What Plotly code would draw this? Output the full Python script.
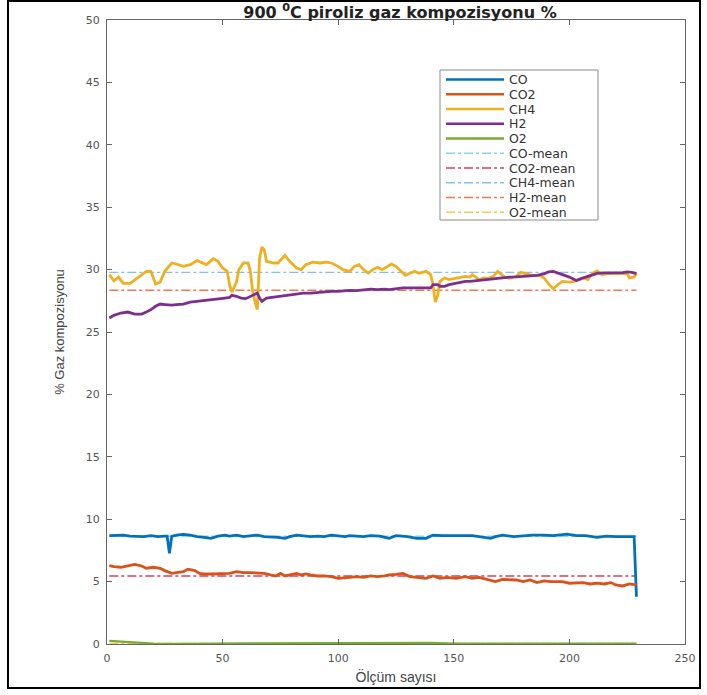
import plotly.graph_objects as go

# Ölçüm numaraları ve gaz yüzdeleri (900 °C piroliz)
co_x = [1, 4, 7, 10, 13, 16, 19, 22, 25, 26, 27, 28, 30, 33, 36, 39, 42, 45, 48, 51, 53, 56, 59, 62, 65,
        68, 71, 74, 77, 79, 82, 85, 88, 91, 94, 97, 100, 103, 105, 108, 111, 114, 118, 122, 125, 130,
        134, 138, 141, 145, 150, 154, 158, 163, 166, 168, 171, 176, 180, 184, 189, 193, 199, 203, 207,
        212, 216, 220, 225, 228, 229]
co_y = [8.68, 8.70, 8.73, 8.65, 8.60, 8.60, 8.68, 8.60, 8.65, 8.65, 7.27, 8.62, 8.73, 8.78, 8.73, 8.60,
        8.55, 8.47, 8.65, 8.73, 8.65, 8.73, 8.60, 8.65, 8.73, 8.60, 8.60, 8.55, 8.47, 8.60, 8.73, 8.65,
        8.60, 8.65, 8.60, 8.73, 8.65, 8.60, 8.68, 8.65, 8.60, 8.68, 8.65, 8.47, 8.68, 8.60, 8.47, 8.47,
        8.73, 8.68, 8.65, 8.68, 8.68, 8.55, 8.47, 8.60, 8.73, 8.60, 8.68, 8.73, 8.73, 8.68, 8.81, 8.68,
        8.68, 8.55, 8.65, 8.60, 8.60, 8.60, 3.79]

co2_x = [1, 3, 6, 9, 12, 15, 17, 20, 23, 25, 28, 30, 33, 35, 38, 40, 42, 45, 48, 51, 53, 56, 59, 62,
         65, 68, 71, 73, 75, 77, 79, 82, 84, 86, 88, 91, 94, 97, 100, 103, 105, 108, 111, 114, 117, 120,
         122, 125, 128, 131, 135, 138, 141, 144, 147, 151, 155, 158, 161, 165, 168, 171, 174, 177, 180,
         183, 186, 189, 192, 194, 197, 200, 203, 206, 209, 212, 215, 218, 220, 223, 226, 229]
co2_y = [6.28, 6.20, 6.15, 6.25, 6.38, 6.25, 6.07, 6.15, 6.07, 5.88, 5.66, 5.72, 5.80, 6.00, 5.88, 5.66,
         5.61, 5.61, 5.61, 5.61, 5.66, 5.80, 5.72, 5.72, 5.72, 5.66, 5.53, 5.45, 5.66, 5.45, 5.53, 5.66,
         5.53, 5.61, 5.53, 5.45, 5.45, 5.40, 5.26, 5.34, 5.34, 5.40, 5.34, 5.45, 5.40, 5.45, 5.53, 5.58,
         5.66, 5.40, 5.34, 5.26, 5.45, 5.26, 5.34, 5.26, 5.40, 5.26, 5.34, 5.13, 5.00, 5.18, 5.13, 5.13,
         5.00, 5.13, 4.92, 5.05, 5.00, 5.00, 5.00, 4.87, 4.87, 4.92, 4.81, 4.87, 4.81, 4.92, 4.73, 4.65,
         4.81, 4.73]

ch4_x = [1, 3, 5, 7, 10, 13, 17, 19, 21, 23, 25, 28, 30, 33, 36, 39, 41, 43, 46, 48, 50, 52, 53, 54,
         56, 57, 59, 61, 62, 63, 64, 65, 66, 67, 68, 69, 72, 74, 77, 79, 82, 84, 86, 89, 92, 95, 97,
         100, 102, 105, 107, 109, 111, 113, 115, 117, 119, 121, 123, 125, 127, 129, 131, 133, 135, 138,
         140, 141, 142, 143, 144, 146, 148, 151, 153, 155, 157, 158, 161, 163, 165, 167, 169, 170, 172,
         174, 177, 179, 182, 184, 187, 189, 191, 193, 195, 197, 200, 202, 204, 206, 208, 210, 212, 214,
         216, 218, 221, 223, 225, 226, 228, 229]
ch4_y = [29.60, 29.10, 29.40, 28.90, 28.90, 29.30, 29.86, 29.86, 28.85, 29.00, 29.86, 30.53, 30.45,
         30.26, 30.40, 30.72, 30.53, 30.40, 30.88, 30.66, 30.13, 29.86, 28.79, 28.20, 29.00, 29.99,
         30.53, 30.53, 29.86, 28.26, 27.46, 26.80, 30.93, 31.80, 31.60, 30.66, 30.53, 30.53, 31.14,
         30.66, 30.13, 29.99, 30.40, 30.60, 30.53, 30.60, 30.53, 30.26, 29.99, 29.86, 30.26, 30.40,
         29.99, 29.72, 30.00, 30.18, 30.00, 30.26, 30.45, 30.26, 29.86, 29.54, 29.70, 29.86, 29.70,
         29.86, 29.60, 28.79, 27.40, 27.90, 29.06, 29.33, 29.20, 29.33, 29.40, 29.46, 29.40, 29.60,
         29.20, 29.33, 29.30, 29.46, 29.86, 29.70, 29.40, 29.30, 29.46, 29.78, 29.66, 29.54, 29.54,
         29.33, 28.85, 28.47, 28.79, 29.06, 29.00, 29.06, 29.20, 29.33, 29.20, 29.70, 29.90, 29.60,
         29.66, 29.70, 29.66, 29.70, 29.66, 29.33, 29.40, 29.70]

h2_x = [1, 3, 6, 9, 12, 15, 17, 19, 21, 23, 25, 28, 30, 33, 36, 39, 42, 45, 48, 51, 53, 54, 56, 58,
        60, 62, 64, 65, 66, 67, 69, 71, 74, 77, 79, 82, 85, 88, 91, 94, 97, 100, 103, 105, 108, 111,
        114, 117, 120, 122, 125, 128, 131, 134, 137, 140, 141, 143, 144, 146, 148, 151, 153, 155, 157,
        160, 163, 166, 169, 171, 174, 177, 180, 183, 186, 189, 191, 193, 195, 197, 200, 202, 203, 205,
        208, 210, 212, 215, 218, 220, 223, 225, 227, 229]
h2_y = [26.12, 26.33, 26.52, 26.60, 26.44, 26.44, 26.60, 26.79, 27.06, 27.24, 27.20, 27.15, 27.20,
        27.24, 27.40, 27.46, 27.50, 27.56, 27.60, 27.72, 27.77, 27.94, 27.86, 27.72, 27.67, 27.86,
        28.04, 28.12, 27.72, 27.46, 27.72, 27.77, 27.86, 27.94, 28.00, 28.04, 28.12, 28.12, 28.18,
        28.20, 28.26, 28.26, 28.31, 28.34, 28.31, 28.36, 28.44, 28.39, 28.44, 28.39, 28.47, 28.53,
        28.53, 28.53, 28.53, 28.53, 28.79, 28.79, 28.66, 28.66, 28.79, 28.93, 29.00, 29.06, 29.06,
        29.12, 29.20, 29.20, 29.28, 29.33, 29.40, 29.42, 29.44, 29.46, 29.54, 29.66, 29.81, 29.86,
        29.70, 29.60, 29.40, 29.20, 29.12, 29.28, 29.46, 29.60, 29.70, 29.73, 29.73, 29.73, 29.76,
        29.81, 29.78, 29.68]

o2_x = [1, 5, 10, 15, 20, 30, 60, 90, 120, 140, 150, 180, 210, 229]
o2_y = [0.25, 0.20, 0.15, 0.10, 0.03, 0.02, 0.05, 0.03, 0.08, 0.10, 0.03, 0.04, 0.02, 0.03]

series_names = ["CO", "CO2", "CH4", "H2", "O2"]
series_colors = ["#0072BD", "#D95319", "#EDB120", "#7E2F8E", "#77AC30"]
series_x = [co_x, co2_x, ch4_x, h2_x, o2_x]
series_y = [co_y, co2_y, ch4_y, h2_y, o2_y]

mean_names = ["CO-mean", "CO2-mean", "CH4-mean", "H2-mean", "O2-mean"]
mean_values = [8.63, 5.45, 29.78, 28.34, 0.05]
mean_colors = ["#86D3F2", "#D6405E", "#86BFE8", "#F07A50", "#F4C85A"]

x_ticks = [0, 50, 100, 150, 200, 250]
y_ticks = [0, 5, 10, 15, 20, 25, 30, 35, 40, 45, 50]

W, H = 707, 695
L, R, T, B = 107, 22, 20, 51
PW, PH = W - L - R, H - T - B


def px_to_paper_x(px):
    return (px - L) / PW


def px_to_paper_y(py):
    return (H - B - py) / PH


fig = go.Figure()

# Mean levels go underneath the measured series
x_first, x_last = co_x[0], co_x[-1]
for name, color, val in zip(mean_names, mean_colors, mean_values):
    fig.add_trace(go.Scatter(x=[x_first, x_last], y=[val, val], mode="lines", name=name,
                             line=dict(color=color, width=1.4, dash="dashdot"),
                             showlegend=False))

for name, color, xs, ys in zip(series_names, series_colors, series_x, series_y):
    fig.add_trace(go.Scatter(x=xs, y=ys, mode="lines", name=name,
                             line=dict(color=color, width=2.8 if name != "O2" else 2.2),
                             showlegend=False))

shapes = []
annotations = []

# Outer frame around the whole figure
shapes.append(dict(type="rect", xref="paper", yref="paper",
                   x0=px_to_paper_x(8), x1=px_to_paper_x(700),
                   y0=px_to_paper_y(688), y1=px_to_paper_y(1),
                   line=dict(color="black", width=2), fillcolor="rgba(0,0,0,0)", layer="above"))

# Legend box with line swatches and labels
leg_left, leg_right, leg_top, leg_bottom = 440, 598, 70, 220
shapes.append(dict(type="rect", xref="paper", yref="paper",
                   x0=px_to_paper_x(leg_left), x1=px_to_paper_x(leg_right),
                   y0=px_to_paper_y(leg_bottom), y1=px_to_paper_y(leg_top),
                   line=dict(color="#8a8a8a", width=1), fillcolor="white", layer="above"))
legend_entries = [(n, c, "solid", 2.4) for n, c in zip(series_names, series_colors)] + \
                 [(n, c, "dashdot", 1.4) for n, c in zip(mean_names, mean_colors)]
for i, (name, color, dash, width) in enumerate(legend_entries):
    yc = 79.5 + i * 14.75
    shapes.append(dict(type="line", xref="paper", yref="paper",
                       x0=px_to_paper_x(446), x1=px_to_paper_x(504),
                       y0=px_to_paper_y(yc), y1=px_to_paper_y(yc),
                       line=dict(color=color, width=width, dash=dash), layer="above"))
    annotations.append(dict(text=name, xref="paper", yref="paper",
                            x=px_to_paper_x(507), y=px_to_paper_y(yc),
                            xanchor="left", yanchor="middle", showarrow=False,
                            font=dict(family="DejaVu Sans", size=12.5, color="#333333")))

axis_common = dict(showgrid=False, zeroline=False, showline=True, linecolor="#666666",
                   linewidth=1, mirror="ticks", ticks="inside", ticklen=5, tickcolor="#666666",
                   tickfont=dict(family="DejaVu Sans", size=11, color="#555555"))

fig.update_layout(
    width=W, height=H,
    margin=dict(l=L, r=R, t=T, b=B, pad=0),
    paper_bgcolor="white", plot_bgcolor="white",
    title=dict(text="<b>900 <sup>0</sup>C piroliz gaz kompozisyonu %</b>",
               x=px_to_paper_x(400), xref="paper", xanchor="center",
               y=1 - 12 / H, yanchor="middle",
               font=dict(family="DejaVu Sans", size=16, color="#222222")),
    xaxis=dict(range=[0, 250], tickvals=x_ticks, ticklabelstandoff=4,
               title=dict(text="Ölçüm sayısı", standoff=7,
                          font=dict(family="Liberation Sans", size=14, color="#444444")),
               **axis_common),
    yaxis=dict(range=[0, 50], tickvals=y_ticks, ticklabelstandoff=4,
               title=dict(text="% Gaz kompozisyonu", standoff=18,
                          font=dict(family="Liberation Sans", size=13, color="#444444")),
               **axis_common),
    shapes=shapes,
    annotations=annotations,
)

fig.write_html("out.html")
